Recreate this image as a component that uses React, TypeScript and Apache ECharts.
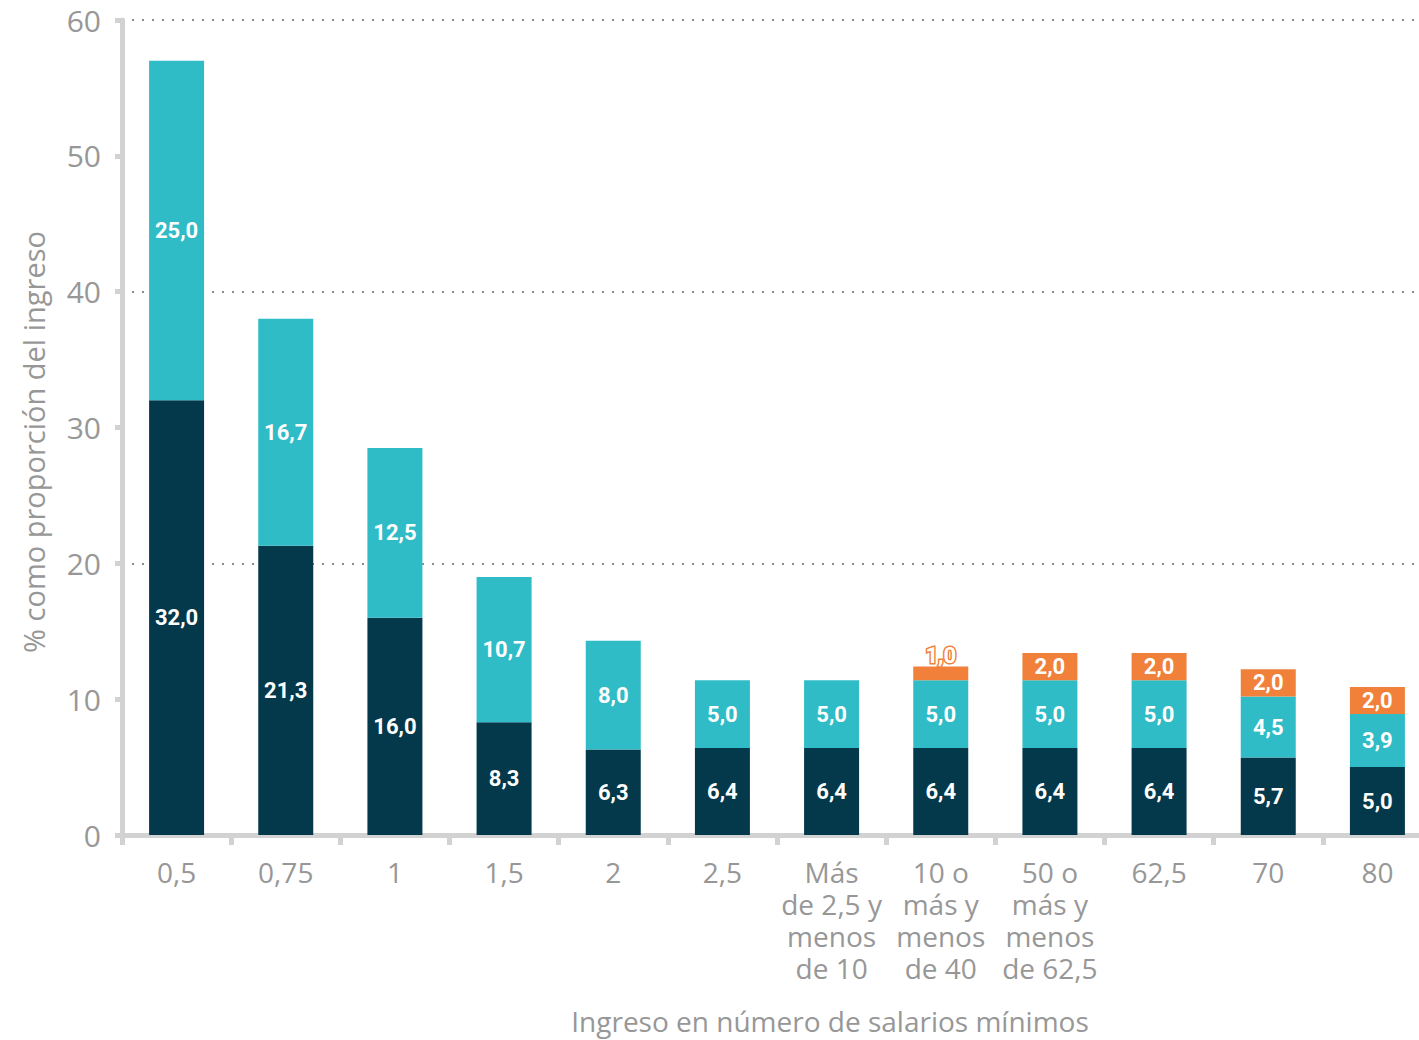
import React, { useEffect, useRef } from "react";
import * as echarts from "echarts";

const categories = [
  "0,5",
  "0,75",
  "1",
  "1,5",
  "2",
  "2,5",
  "Más\nde 2,5 y\nmenos\nde 10",
  "10 o\nmás y\nmenos\nde 40",
  "50 o\nmás y\nmenos\nde 62,5",
  "62,5",
  "70",
  "80",
];
const darkValues = [32.0, 21.3, 16.0, 8.3, 6.3, 6.4, 6.4, 6.4, 6.4, 6.4, 5.7, 5.0];
const tealValues = [25.0, 16.7, 12.5, 10.7, 8.0, 5.0, 5.0, 5.0, 5.0, 5.0, 4.5, 3.9];
const orangeValues = [null, null, null, null, null, null, null, 1.0, 2.0, 2.0, 2.0, 2.0];

const yAxisName = "% como proporción del ingreso";
const xAxisName = "Ingreso en número de salarios mínimos";

const DARK = "#04394b";
const TEAL = "#2fbcc6";
const ORANGE = "#f0803a";
const AXIS = "#d2d2d2";
const TEXT = "#979797";

const fmt = (p: any) => (p.value == null ? "" : Number(p.value).toFixed(1).replace(".", ","));

export default function App() {
  const ref = useRef<HTMLDivElement>(null);
  useEffect(() => {
    if (!ref.current) return;
    const chart = echarts.init(ref.current, null, { renderer: "svg" });
    const labelBase = {
      show: true,
      position: "inside",
      color: "#ffffff",
      fontFamily: "Roboto",
      fontWeight: "bold",
      fontSize: 22,
      formatter: fmt,
    };
    const orangeData = orangeValues.map((v) =>
      v != null && v < 1.5
        ? { value: v, label: { position: "top", distance: 0 } }
        : v
    );
    chart.setOption({
      animation: false,
      backgroundColor: "#ffffff",
      grid: { left: 122, top: 20, width: 1310, height: 815, containLabel: false },
      xAxis: {
        type: "category",
        data: categories,
        axisLine: { show: true, lineStyle: { color: AXIS, width: 5 } },
        axisTick: { show: true, alignWithLabel: false, length: 10, lineStyle: { color: AXIS, width: 5 } },
        axisLabel: {
          interval: 0,
          margin: 21,
          fontSize: 28,
          lineHeight: 32,
          color: TEXT,
          fontFamily: "Open Sans",
        },
      },
      yAxis: [
        {
          type: "value",
          min: 0,
          max: 60,
          interval: 10,
          axisLine: { show: true, lineStyle: { color: AXIS, width: 5 } },
          axisTick: { show: true, length: 7, lineStyle: { color: AXIS, width: 5 } },
          axisLabel: { fontSize: 30, color: TEXT, margin: 21, fontFamily: "Open Sans" },
          splitLine: { show: false },
        },
        {
          type: "value",
          min: 0,
          max: 60,
          interval: 20,
          axisLine: { show: false },
          axisTick: { show: false },
          axisLabel: { show: false },
          splitLine: { show: true, lineStyle: { color: "#8a8a8a", width: 2, type: [2, 8] } },
        },
      ],
      series: [
        {
          type: "bar",
          stack: "total",
          data: darkValues,
          barWidth: 55,
          itemStyle: { color: DARK },
          label: { ...labelBase },
        },
        {
          type: "bar",
          stack: "total",
          data: tealValues,
          barWidth: 55,
          itemStyle: { color: TEAL },
          label: { ...labelBase },
        },
        {
          type: "bar",
          stack: "total",
          data: orangeData,
          barWidth: 55,
          itemStyle: { color: ORANGE },
          label: { ...labelBase, textBorderColor: ORANGE, textBorderWidth: 3 },
        },
      ],
      graphic: [
        {
          type: "text",
          x: 830,
          y: 1021,
          style: {
            text: xAxisName,
            fontSize: 28,
            fill: TEXT,
            fontFamily: "Open Sans",
            align: "center",
            verticalAlign: "middle",
          },
        },
        {
          type: "text",
          x: 33,
          y: 442,
          rotation: Math.PI / 2,
          style: {
            text: yAxisName,
            fontSize: 29,
            fill: TEXT,
            fontFamily: "Open Sans",
            align: "center",
            verticalAlign: "middle",
          },
        },
      ],
    });
    return () => chart.dispose();
  }, []);
  return (
    <div
      ref={ref}
      style={{ position: "fixed", left: 0, top: 0, width: 1440, height: 1040 }}
    />
  );
}
